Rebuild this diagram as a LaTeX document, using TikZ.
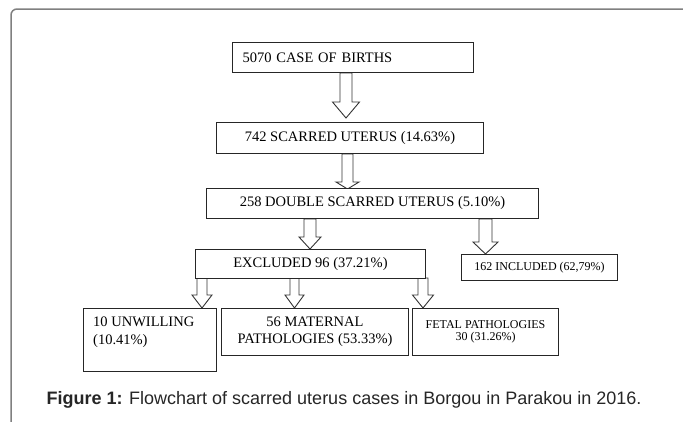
\documentclass[tikz,border=0pt]{standalone}
\usepackage{fontspec}
\setmainfont{Liberation Serif}
\newfontfamily\capfont{Liberation Sans}
\usetikzlibrary{calc}
\pgfdeclarelayer{bg}
\pgfsetlayers{bg,main}
\tikzset{
  box/.style={draw=black!85, line width=1pt, fill=white, inner sep=0pt, anchor=north west,
    font=\fontsize{14.5}{17}\selectfont},
  smallbox/.style={box, font=\fontsize{12}{15}\selectfont},
  blockarrow/.style={draw=black!80, line width=0.9pt, fill=white, line join=miter},
  frame/.style={draw=black!50, line width=1.5pt, rounded corners=6pt},
  captext/.style={font=\capfont\fontsize{18}{21}\selectfont, anchor=base, inner sep=0pt, text=black!85}
}
% #1 start point, #2 end point (only y used), #3 shaft half width, #4 head half width, #5 head length
\newcommand\blkarr[5]{%
  \begin{pgfonlayer}{bg}
  \draw[blockarrow] let \p1=(#1), \p2=(#2) in
    (\x1-#3pt,\y1) -- (\x1-#3pt,\y2+#5pt) -- (\x1-#4pt,\y2+#5pt) -- (\x1,\y2)
    -- (\x1+#4pt,\y2+#5pt) -- (\x1+#3pt,\y2+#5pt) -- (\x1+#3pt,\y1) -- cycle;
  \end{pgfonlayer}}
\begin{document}
\begin{tikzpicture}[x=1pt,y=-1pt]
\useasboundingbox (0,0) rectangle (683,421);
\begin{scope}
\clip (0,0) rectangle (683,421);
\draw[frame] (11,9) rectangle (720,460);
\end{scope}

% boxes
\node[box, minimum width=241pt, minimum height=30pt, text width=221pt, align=left] (b1) at (232,42) {5070 CASE OF BIRTHS};
\node[box, minimum width=267pt, minimum height=31pt] (b2) at (216,122) {742 SCARRED UTERUS (14.63\%)};
\node[box, minimum width=332pt, minimum height=30pt] (b3) at (206,188) {258 DOUBLE SCARRED UTERUS (5.10\%)};
\node[box, minimum width=230pt, minimum height=29pt] (ex) at (195,249) {EXCLUDED 96 (37.21\%)};
\node[smallbox, minimum width=156pt, minimum height=26pt] (inc) at (461,254) {162 INCLUDED (62,79\%)};
\node[box, minimum width=133pt, minimum height=63pt] (un) at (83,308) {};
\node[anchor=north west, inner sep=0pt, align=left, font=\fontsize{14.5}{18}\selectfont] (unt) at (93,316.5) {10 UNWILLING\\(10.41\%)};
\node[box, minimum width=187pt, minimum height=47pt, align=center] (mat) at (221,308) {56 MATERNAL\\PATHOLOGIES (53.33\%)};
\node[smallbox, minimum width=146pt, minimum height=47pt, align=center] (fet) at (412,308) {\raisebox{3pt}{\shortstack{FETAL PATHOLOGIES\\30 (31.26\%)}}};

% block arrows
\blkarr{$(b1.south west)+(114,0)$}{$(b2.north)+(0,-4)$}{6}{13.5}{16}
\blkarr{$(b2.south west)+(131.5,0)$}{$(b3.north)+(0,1)$}{5.5}{11.5}{7}
\blkarr{$(b3.south west)+(104,0)$}{ex.north}{6}{11}{12}
\blkarr{$(b3.south west)+(279.5,0)$}{inc.north}{6.5}{12.5}{12}
\blkarr{$(ex.south west)+(7,-1)$}{un.north}{5}{10}{13}
\blkarr{$(ex.south west)+(99.5,-1)$}{mat.north}{4.5}{9.5}{13}
\blkarr{$(ex.south west)+(228,-1)$}{fet.north}{5}{10.5}{13}

\node[captext] (cap) at (344,404) {\textbf{Figure 1:} Flowchart of scarred uterus cases in Borgou in Parakou in 2016.};
\end{tikzpicture}
\end{document}
